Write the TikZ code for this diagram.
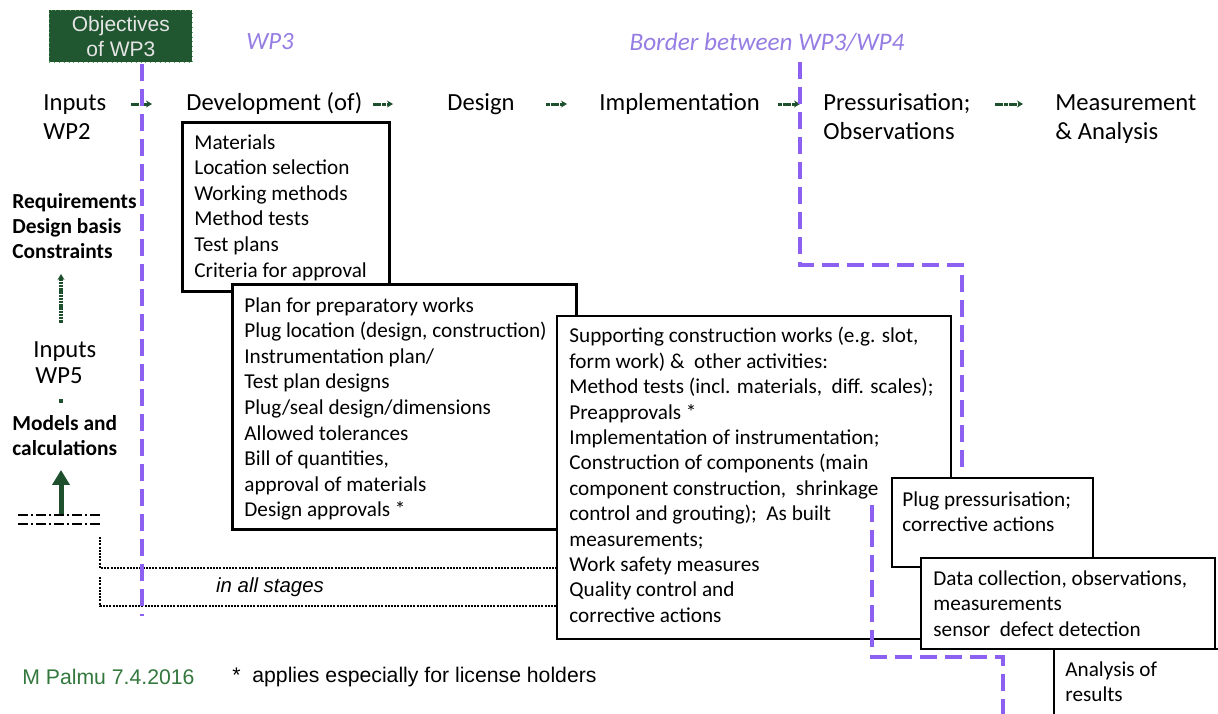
\documentclass[tikz,border=0pt]{standalone}
\usepackage{fontspec}
\setmainfont{Carlito}
\newfontfamily\arialfont{Liberation Sans}
\usetikzlibrary{positioning,arrows.meta}
\definecolor{wpgreen}{RGB}{30,80,45}
\definecolor{objgreen}{RGB}{32,86,48}
\definecolor{wppurple}{RGB}{140,96,240}
\definecolor{wplilac}{RGB}{150,125,228}
\definecolor{palmugreen}{RGB}{52,120,62}

\begin{document}
\begin{tikzpicture}[
  x=0.5pt, y=-0.5pt,
  every node/.style={inner sep=0pt, anchor=north west, align=left},
  stage/.style={font=\fontsize{12.3}{14.5}\selectfont, text height=9pt, text depth=3pt},
  keyword/.style={font=\fontsize{10.7}{12.5}\selectfont\bfseries},
  box/.style={draw, fill=white, line width=0.75pt},
  list/.style={font=\fontsize{10.6}{12.8}\selectfont},
  flow/.style={draw=wpgreen, line width=1.5pt, dash pattern=on 2pt off 0.3pt,
    -{Stealth[length=3pt,width=3.5pt]}},
  bigflow/.style={draw=wpgreen, line width=2.5pt, -{Triangle[length=7.5pt,width=8.5pt]}},
  border/.style={draw=wppurple, line width=2pt, dash pattern=on 8.5pt off 4pt},
  stagebound/.style={draw, line width=0.6pt, dash pattern=on 1pt off 0.6pt},
  note/.style={font=\arialfont\fontsize{10.6}{13}\selectfont},
  ]
  \useasboundingbox (0,0) rectangle (1218,713);
  \clip (0,0) rectangle (1218,713);
  \fill[white] (0,0) rectangle (1218,713);

  % titles
  \node[draw=gray!70!green, dotted, fill=objgreen, minimum width=71.5pt, minimum height=26pt,
    align=center, text=black!10, font=\arialfont\fontsize{10.5}{12.8}\selectfont]
    (objWP3) at (49,10) {Objectives\\of WP3};
  \node[anchor=center, text=wplilac, font=\fontsize{12.4}{14}\selectfont\itshape]
    (labelWP3) at (270,42) {WP3};
  \node[anchor=center, text=wplilac, font=\fontsize{12.6}{14}\selectfont\itshape]
    (labelBorder) at (767,42) {Border between WP3/WP4};

  % stages
  \node[stage, anchor=base west] (inputsWP2) at (43,110) {Inputs};
  \node[stage, below=2.5pt of inputsWP2.south west, anchor=north west] (wp2Label) {WP2};
  \node[stage, anchor=base west] (develop) at (186,110) {Development (of)};
  \node[stage, anchor=base west] (design) at (447,110) {Design};
  \node[stage, anchor=base west] (implement) at (599,110) {Implementation};
  \node[stage, anchor=base west] (pressure) at (823,110) {Pressurisation;};
  \node[stage, below=2.5pt of pressure.south west, anchor=north west] (observe) {Observations};
  \node[stage, anchor=base west] (measure) at (1055,110) {Measurement};
  \node[stage, below=2.5pt of measure.south west, anchor=north west] (analysis) {\& Analysis};
  \path[flow, shorten <=12pt, shorten >=17pt] (inputsWP2) -- (develop);
  \path[flow, shorten <=5pt, shorten >=27pt] (develop) -- (design);
  \path[flow, shorten <=15.5pt, shorten >=16pt] (design) -- (implement);
  \path[flow, shorten <=9pt, shorten >=11.5pt] (implement) -- (pressure);
  \path[flow, shorten <=12pt, shorten >=16pt] (pressure) -- (measure);

  % inputs from WP5
  \node[keyword] (requirements) at (12,193) {Requirements\\Design basis\\Constraints};
  \node[stage, anchor=base west] (inputsWP5) at (33,357) {Inputs};
  \node[stage, below=1pt of inputsWP5.south west, anchor=north west, xshift=1pt] (wp5Label) {WP5};
  \node[keyword] (models) at (12,415) {Models and\\calculations};
  \coordinate (modelsBase) at (61,515);
  \path[flow, line width=2pt, dash pattern=on 1.2pt off 0.4pt, shorten <=8pt, shorten >=7.5pt]
    (inputsWP5.north -| modelsBase) -- (modelsBase |- requirements.south);
  \path[draw=wpgreen, line width=2pt, shorten <=4.5pt, shorten >=6pt]
    (wp5Label.south -| modelsBase) -- (modelsBase |- models.north);
  \path[bigflow, shorten >=7pt] (modelsBase) -- (modelsBase |- models.south);
  \draw[line width=0.7pt, dash pattern=on 5pt off 1.5pt on 1pt off 1.5pt]
    (18,515) -- (100,515) (18,524) -- (100,524);

  % in all stages
  \draw[stagebound] (100,537) |- (557,568);
  \draw[stagebound] (100,577) |- (557,606);
  \node[anchor=center, font=\arialfont\fontsize{10.2}{12}\selectfont\itshape] (allStages) at (270,587) {in all stages};

  % borders between work packages
  \path[border] (142,64) -- (142,616);
  \path[border] (800,62) -- (800,265) -- (962,265) -- (962,472);

  % work boxes
  \node[box, line width=1.4pt, minimum width=103.5pt, minimum height=84.5pt] (boxDev) at (181,121) {};
  \node[list] (listDev) at ([shift={(13,13)}]boxDev.north west)
    {Materials\\Location selection\\Working methods\\Method tests\\Test plans\\Criteria for approval};
  \node[box, line width=1.4pt, minimum width=172pt, minimum height=122.5pt] (boxDesign) at (231,283) {};
  \node[list] (listDesign) at ([shift={(13,14)}]boxDesign.north west)
    {Plan for preparatory works\\Plug location (design, construction)\\Instrumentation plan/\\
     Test plan designs\\Plug/seal design/dimensions\\Allowed tolerances\\Bill of quantities,\\
     approval of materials\\Design approvals *};
  \node[box, minimum width=197pt, minimum height=161.5pt] (boxImpl) at (556,315) {};
  \node[list, font=\fontsize{10.6}{12.7}\selectfont] (listImpl) at ([shift={(13,12)}]boxImpl.north west)
    {Supporting construction works (e.g. slot,\\form work) \& \ other activities:\\
     Method tests (incl. materials, \ diff. scales);\\Preapprovals *\\
     Implementation of instrumentation;\\Construction of components (main\\
     component construction, \ shrinkage\\control and grouting); \ As built\\
     measurements;\\Work safety measures\\Quality control and\\corrective actions};
  \path[border] (872,505) -- (872,657) -- (1003,657) -- (1003,720);
  \node[box, minimum width=100.5pt, minimum height=44.5pt] (boxPress) at (891,477) {};
  \node[list] (listPress) at ([shift={(11,14)}]boxPress.north west)
    {Plug pressurisation;\\corrective actions};
  \node[box, minimum width=100pt, minimum height=50pt] (boxAnalysis) at (1053,648) {};
  \node[list] (listAnalysis) at (1065,661) {Analysis of\\results};
  \node[box, minimum width=147pt, minimum height=45.5pt] (boxData) at (920,557) {};
  \node[list] (listData) at ([shift={(13,13)}]boxData.north west)
    {Data collection, observations,\\measurements\\sensor \ defect detection};

  % footer
  \node[note, anchor=west, text=palmugreen] (author) at (22,677) {M Palmu 7.4.2016};
  \node[note, anchor=west] (footnote) at (232,677) {* \ applies especially for license holders};
\end{tikzpicture}
\end{document}
